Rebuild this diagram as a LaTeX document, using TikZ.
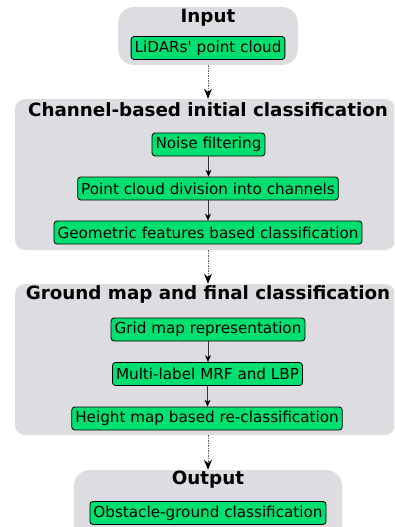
\documentclass[tikz,border=0pt]{standalone}
\usepackage{fontspec}
\setmainfont{DejaVu Sans}[Ligatures=TeXOff]
\usetikzlibrary{arrows.meta}
\definecolor{grp}{HTML}{DDDCE1}
\definecolor{grn}{HTML}{00E070}
\begin{document}
\begin{tikzpicture}[x=1pt,y=-1pt,
 grpbox/.style={fill=grp, draw=none, inner sep=0pt},
 stepbox/.style={draw=black, fill=grn, rounded corners=3pt, line width=0.8pt, font=\fontsize{15.2}{17}\selectfont, inner xsep=3.5pt, inner ysep=0pt, minimum height=23pt},
 title/.style={font=\fontsize{18.3}{21}\selectfont\bfseries, inner sep=0pt},
 flow/.style={-{Stealth[length=7pt,width=6pt,color=black]}, line width=0.8pt, draw=black!80},
 link/.style={-{Stealth[length=10pt,width=8pt,color=black]}, dash pattern=on 1.5pt off 1pt, line width=1pt, draw=black!60}]
\useasboundingbox (0,0) rectangle (394,527);
\clip (0,0) rectangle (394,527);
% groups
\node[grpbox, rounded corners=16pt, minimum width=180pt, minimum height=58pt] (g1) at (208,36) {};
\node[grpbox, rounded corners=10pt, minimum width=380pt, minimum height=151pt] (g2) at (205,174.5) {};
\node[grpbox, rounded corners=10pt, minimum width=380pt, minimum height=151pt] (g3) at (205,359.5) {};
\node[grpbox, rounded corners=16pt, minimum width=268pt, minimum height=90pt] (g4) at (208,515) {};
% titles
\node[title] (t1) at (208,17.5) {Input};
\node[title] (t2) at (208,110) {Channel-based initial classification};
\node[title] (t3) at (208,294) {Ground map and final classification};
\node[title] (t4) at (208,480) {Output};
% steps
\node[stepbox] (lidar) at (208,48) {LiDARs' point cloud};
\node[stepbox] (noise) at (208.5,144.5) {Noise filtering};
\node[stepbox] (div) at (208,188.5) {Point cloud division into channels};
\node[stepbox] (geom) at (208,232.5) {Geometric features based classification};
\node[stepbox] (grid) at (208,329.5) {Grid map representation};
\node[stepbox] (mrf) at (207.5,374) {Multi-label MRF and LBP};
\node[stepbox] (height) at (207,418.5) {Height map based re-classification};
\node[stepbox] (obst) at (208,513) {Obstacle-ground classification};
% connectors
\draw[flow] (noise.south) -- (noise.south |- div.north);
\draw[flow] (div.south) -- (div.south |- geom.north);
\draw[flow] (grid.south) -- (grid.south |- mrf.north);
\draw[flow] (mrf.south) -- (mrf.south |- height.north);
\draw[link] (g1.south) -- (g1.south |- g2.north);
\draw[link] (g1.south |- g2.south) -- (g1.south |- g3.north);
\draw[link] (g1.south |- g3.south) -- (g4.north);
\end{tikzpicture}
\end{document}
